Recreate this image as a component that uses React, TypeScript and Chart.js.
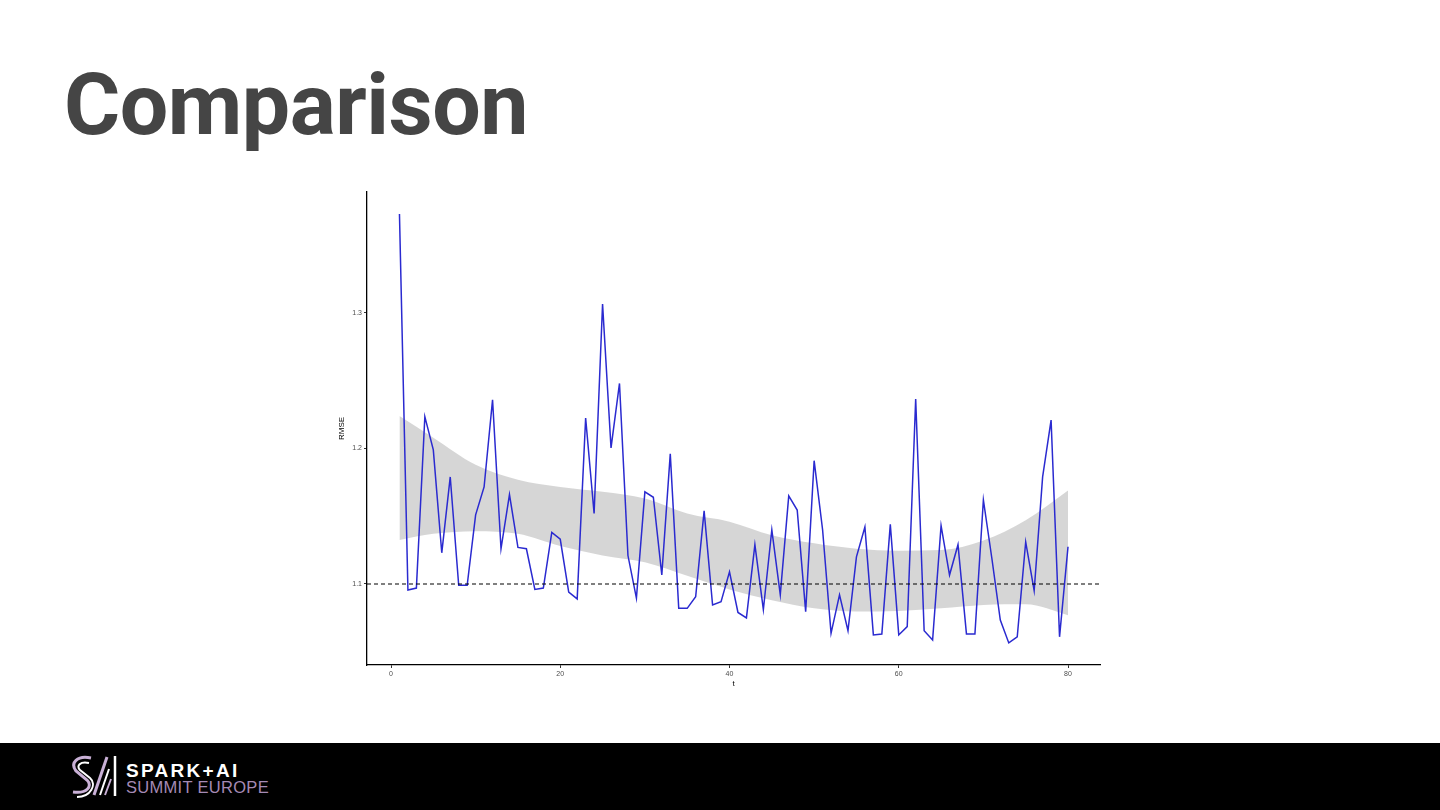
import React, { useEffect, useRef } from "react";
import { Chart, registerables } from "chart.js";

Chart.register(...registerables);

// RMSE per iteration t = 1..80
const rmse = [
  1.373, 1.0955, 1.097, 1.2235, 1.199, 1.123, 1.179, 1.099, 1.099, 1.151,
  1.1716, 1.236, 1.126, 1.166, 1.127, 1.126, 1.096, 1.097, 1.138, 1.133,
  1.094, 1.089, 1.2225, 1.152, 1.3066, 1.2004, 1.248, 1.121, 1.0896, 1.168,
  1.164, 1.1066, 1.196, 1.082, 1.082, 1.0906, 1.154, 1.0845, 1.087, 1.109,
  1.079, 1.075, 1.129, 1.081, 1.14, 1.092, 1.165, 1.1546, 1.0796, 1.191,
  1.14, 1.0636, 1.0919, 1.0655, 1.12, 1.142, 1.0624, 1.063, 1.144, 1.0624,
  1.0685, 1.2365, 1.0655, 1.0587, 1.143, 1.1066, 1.129, 1.063, 1.063, 1.162,
  1.119, 1.0734, 1.0565, 1.061, 1.131, 1.095, 1.179, 1.221, 1.061, 1.1275,
];

// smoother confidence band
const bandT = [1, 5, 10, 15, 20, 25, 30, 35, 40, 45, 50, 55, 60, 65, 70, 75, 80];
const bandUpper = [1.224, 1.208, 1.188, 1.177, 1.1716, 1.168, 1.163, 1.152, 1.146, 1.136, 1.13, 1.126, 1.1246, 1.125, 1.132, 1.147, 1.169];
const bandLower = [1.1325, 1.137, 1.139, 1.137, 1.128, 1.121, 1.116, 1.106, 1.096, 1.088, 1.082, 1.0796, 1.08, 1.082, 1.0845, 1.085, 1.077];

const refLevel = 1.1;
const xTicks = [0, 20, 40, 60, 80];
const yTicks = [1.1, 1.2, 1.3];
const X_MIN = -2.836;
const X_MAX = 83.78;
const Y_MIN = 1.0402;
const Y_MAX = 1.3893;

export default function App() {
  const ref = useRef<HTMLCanvasElement>(null);

  useEffect(() => {
    const canvas = ref.current;
    if (!canvas) return;
    const tickFont = { family: "'Liberation Sans', Arial, sans-serif", size: 7 };
    const chart = new Chart(canvas, {
      type: "line",
      data: {
        datasets: [
          {
            label: "upper",
            data: bandT.map((t, i) => ({ x: t, y: bandUpper[i] })),
            borderWidth: 0,
            borderColor: "rgba(0,0,0,0)",
            pointRadius: 0,
            fill: "+1",
            backgroundColor: "rgba(153,153,153,0.4)",
            cubicInterpolationMode: "monotone",
            order: 3,
          },
          {
            label: "lower",
            data: bandT.map((t, i) => ({ x: t, y: bandLower[i] })),
            borderWidth: 0,
            borderColor: "rgba(0,0,0,0)",
            pointRadius: 0,
            fill: false,
            cubicInterpolationMode: "monotone",
            order: 3,
          },
          {
            label: "RMSE",
            data: rmse.map((v, i) => ({ x: i + 1, y: v })),
            borderColor: "#2a2ad0",
            borderWidth: 1.5,
            pointRadius: 0,
            fill: false,
            tension: 0,
            order: 2,
          },
          {
            label: "ref",
            data: [
              { x: X_MIN, y: refLevel },
              { x: X_MAX, y: refLevel },
            ],
            borderColor: "#000",
            borderWidth: 1.2,
            borderDash: [4, 3],
            pointRadius: 0,
            fill: false,
            order: 1,
          },
        ],
      },
      options: {
        animation: false,
        responsive: false,
        maintainAspectRatio: false,
        layout: { padding: { left: 0, right: 20, top: 7, bottom: 0 } },
        plugins: { legend: { display: false }, tooltip: { enabled: false } },
        scales: {
          x: {
            type: "linear",
            min: X_MIN,
            max: X_MAX,
            afterBuildTicks: (s: any) => {
              s.ticks = xTicks.map((v) => ({ value: v }));
            },
            afterFit: (s: any) => {
              s.height = 40;
            },
            grid: {
              drawOnChartArea: false,
              drawTicks: true,
              tickLength: 3,
              tickColor: "#333",
            },
            border: { display: true, color: "#000", width: 1.3 },
            ticks: {
              font: tickFont,
              color: "#4d4d4d",
              padding: 2,
              maxRotation: 0,
              callback: (v: any) => String(v),
            },
            title: {
              display: true,
              text: "t",
              color: "#000",
              font: { family: "'Liberation Sans', Arial, sans-serif", size: 8 },
              padding: { top: 0, bottom: 16 },
            },
          },
          y: {
            type: "linear",
            min: Y_MIN,
            max: Y_MAX,
            afterBuildTicks: (s: any) => {
              s.ticks = yTicks.map((v) => ({ value: v }));
            },
            afterFit: (s: any) => {
              s.width = 37;
            },
            grid: {
              drawOnChartArea: false,
              drawTicks: true,
              tickLength: 3,
              tickColor: "#333",
            },
            border: { display: true, color: "#000", width: 1.3 },
            ticks: {
              font: tickFont,
              color: "#4d4d4d",
              padding: 2,
              callback: (v: any) => Number(v).toFixed(1),
            },
            title: {
              display: true,
              text: "RMSE",
              color: "#000",
              font: { family: "'Liberation Sans', Arial, sans-serif", size: 8 },
              padding: { top: 7, bottom: 0 },
            },
          },
        },
      },
    });
    return () => chart.destroy();
  }, []);

  return (
    <div
      style={{
        position: "absolute",
        left: 0,
        top: 0,
        width: 1440,
        height: 810,
        background: "#fff",
        overflow: "hidden",
      }}
    >
      <div
        style={{
          position: "absolute",
          left: 64,
          top: 62,
          fontFamily: "Roboto, 'Liberation Sans', sans-serif",
          fontWeight: 700,
          fontSize: 86,
          lineHeight: "86px",
          letterSpacing: -0.5,
          color: "#454545",
          whiteSpace: "nowrap",
        }}
      >
        Comparison
      </div>
      <canvas
        ref={ref}
        width={790}
        height={520}
        style={{ position: "absolute", left: 330, top: 185, width: 790, height: 520 }}
      />
      <div
        style={{
          position: "absolute",
          left: 0,
          top: 743,
          width: 1440,
          height: 67,
          background: "#000",
        }}
      >
        <svg
          width={52}
          height={46}
          viewBox="0 0 52 46"
          style={{ position: "absolute", left: 67, top: 10 }}
        >
          <path d="M24 5 C10 2 3 10 9 18 L20 27 C26 33 20 41 6 39" stroke="#c9b0d6" strokeWidth={3} fill="none" />
          <path d="M22 10 C13 8 9 13 13 17 L23 25 C30 31 24 44 10 44" stroke="#ffffff" strokeWidth={2} fill="none" />
          <path d="M27 42 L40 4" stroke="#c9b0d6" strokeWidth={3} fill="none" />
          <path d="M33 42 L42 16" stroke="#ffffff" strokeWidth={2} fill="none" />
          <path d="M38 42 L44 26" stroke="#c9b0d6" strokeWidth={2} fill="none" />
          <path d="M48 3 L48 43" stroke="#ffffff" strokeWidth={2.5} fill="none" />
        </svg>
        <div
          style={{
            position: "absolute",
            left: 126,
            top: 18,
            fontFamily: "'Liberation Sans', Arial, sans-serif",
            fontWeight: 700,
            fontSize: 19,
            lineHeight: "19px",
            letterSpacing: 2.3,
            color: "#fff",
            whiteSpace: "nowrap",
          }}
        >
          SPARK+AI
        </div>
        <div
          style={{
            position: "absolute",
            left: 126,
            top: 36,
            fontFamily: "'Liberation Sans', Arial, sans-serif",
            fontWeight: 400,
            fontSize: 16.5,
            lineHeight: "16.5px",
            letterSpacing: 0.3,
            color: "#a58ab5",
            whiteSpace: "nowrap",
          }}
        >
          SUMMIT EUROPE
        </div>
      </div>
    </div>
  );
}
